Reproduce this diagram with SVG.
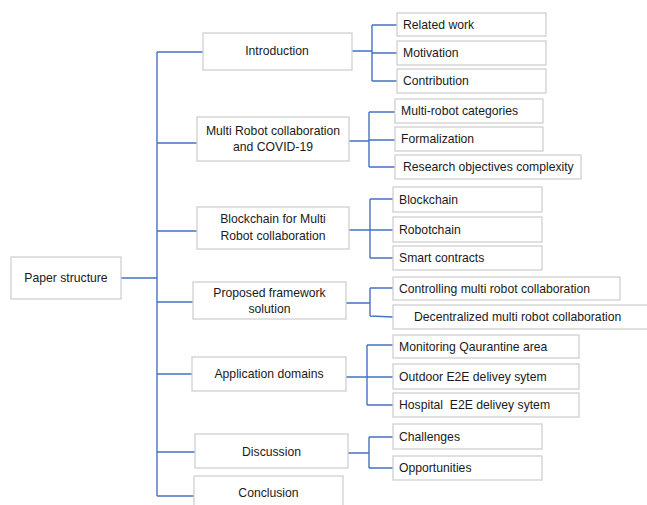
<svg xmlns="http://www.w3.org/2000/svg" width="647" height="505" viewBox="0 0 647 505">
<style>
rect{fill:#fff;stroke:#d0d0d0;stroke-width:1.3}
text{font-family:"Liberation Sans",Arial,sans-serif;font-size:12.2px;fill:#1a1a1a}
.c{text-anchor:middle}
#connectors path{fill:none;stroke:#4472c4;stroke-width:1.4}
</style>
<rect x="0" y="0" width="647" height="505" style="fill:#fff;stroke:none"/>
<g id="connectors">
<path d="M121,278H157M157,52V496M157,52H203M157,143H197M157,231H197M157,302H193M157,374H192M157,452H195M157,496H194"/>
<path d="M352,51H372M372,25V81M372,25H397M372,53H397M372,81H397"/>
<path d="M349,141H369M369,112V167M369,112H395M369,140H395M369,167H395"/>
<path d="M349,230H370M370,199V258M370,199H393M370,230H393M370,258H393"/>
<path d="M346,303H370M370,288V316M370,288H393M370,316L393,317"/>
<path d="M346,377H367M367,345V405M367,345H393M367,377H393M367,405H393"/>
<path d="M348,453H369M369,437V468M369,437H393M369,468H393"/>
</g>
<g id="paper"><rect x="11" y="257" width="110" height="42"/><text class="c" x="66" y="282">Paper structure</text></g>
<g id="intro"><rect x="203" y="33" width="149" height="37"/><text class="c" x="277" y="55">Introduction</text></g>
<g id="related"><rect x="397" y="13" width="149" height="23"/><text x="403" y="28.5">Related work</text></g>
<g id="motivation"><rect x="397" y="41" width="149" height="24"/><text x="403" y="57">Motivation</text></g>
<g id="contribution"><rect x="397" y="69" width="149" height="24"/><text x="403" y="85">Contribution</text></g>
<g id="mrc"><rect x="197" y="117" width="152" height="44"/><text class="c" x="273" y="135">Multi Robot collaboration</text><text class="c" x="273" y="151">and COVID-19</text></g>
<g id="mrcat"><rect x="395" y="99" width="148" height="24"/><text x="401" y="115">Multi-robot categories</text></g>
<g id="formal"><rect x="395" y="127" width="148" height="24"/><text x="401" y="143">Formalization</text></g>
<g id="research"><rect x="395" y="155" width="186" height="24"/><text x="403" y="171">Research objectives complexity</text></g>
<g id="bcmr"><rect x="197" y="207" width="152" height="42"/><text class="c" x="273" y="223">Blockchain for Multi</text><text class="c" x="273" y="240">Robot collaboration</text></g>
<g id="blockchain"><rect x="393" y="187" width="149" height="25"/><text x="399" y="204">Blockchain</text></g>
<g id="robotchain"><rect x="393" y="217" width="149" height="25"/><text x="399" y="234">Robotchain</text></g>
<g id="smart"><rect x="393" y="246" width="149" height="24"/><text x="399" y="262">Smart contracts</text></g>
<g id="pfs"><rect x="193" y="282" width="153" height="37"/><text class="c" x="269.5" y="297">Proposed framework</text><text class="c" x="269.5" y="313">solution</text></g>
<g id="controlling"><rect x="393" y="277" width="227" height="23"/><text x="399" y="293">Controlling multi robot collaboration</text></g>
<g id="decentral"><rect x="393" y="305" width="258" height="24"/><text x="414" y="321">Decentralized multi robot collaboration</text></g>
<g id="appdom"><rect x="192" y="357" width="154" height="34"/><text class="c" x="269" y="378">Application domains</text></g>
<g id="monitor"><rect x="393" y="335" width="186" height="23"/><text x="399" y="351">Monitoring Qaurantine area</text></g>
<g id="outdoor"><rect x="393" y="364" width="186" height="25"/><text x="399" y="381">Outdoor E2E delivey sytem</text></g>
<g id="hospital"><rect x="393" y="393" width="186" height="24"/><text x="399" y="409" xml:space="preserve">Hospital  E2E delivey sytem</text></g>
<g id="discussion"><rect x="195" y="434" width="153" height="34"/><text class="c" x="271.5" y="456">Discussion</text></g>
<g id="challenges"><rect x="393" y="424" width="149" height="25"/><text x="399" y="441">Challenges</text></g>
<g id="opportunities"><rect x="393" y="456" width="149" height="24"/><text x="399" y="472">Opportunities</text></g>
<g id="conclusion"><rect x="194" y="476" width="149" height="40"/><text class="c" x="268.5" y="497">Conclusion</text></g>
</svg>
